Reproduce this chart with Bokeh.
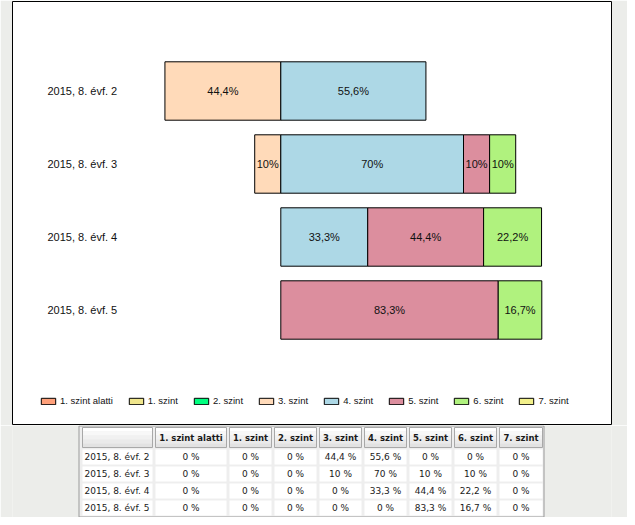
from bokeh.plotting import figure
from bokeh.models import ColumnDataSource, Range1d, Legend, LegendItem, CDSView, BooleanFilter
from bokeh.layouts import column
from bokeh.embed import file_html
from bokeh.resources import INLINE
from bokeh.core.properties import value

# ---------------- data ----------------
categories = ["2015, 8. évf. 2", "2015, 8. évf. 3", "2015, 8. évf. 4", "2015, 8. évf. 5"]
levels = ["1. szint alatti", "1. szint", "2. szint", "3. szint",
          "4. szint", "5. szint", "6. szint", "7. szint"]
szint_alatti = [0, 0, 0, 0]
szint_1 = [0, 0, 0, 0]
szint_2 = [0, 0, 0, 0]
szint_3 = [44.4, 10, 0, 0]
szint_4 = [55.6, 70, 33.3, 0]
szint_5 = [0, 10, 44.4, 83.3]
szint_6 = [0, 10, 22.2, 16.7]
szint_7 = [0, 0, 0, 0]
series = [szint_alatti, szint_1, szint_2, szint_3, szint_4, szint_5, szint_6, szint_7]
colors = ["#FFA07A", "#F0E68C", "#00FF7F", "#FFDAB9",
          "#ADD8E6", "#DC8E9E", "#B0F27E", "#F2F08A"]

PAGE_BG = "#ECEDEA"
FONT = "Liberation Sans"
TFONT = "DejaVu Sans"
W = 627
FL, FR = 12, 16   # frame borders (left/right), shared by both figures


def fmt(v, sep=""):
    return ("%g" % v).replace(".", ",") + sep + "%"


# ---------------- chart ----------------
rows = list(range(len(categories)))
p = figure(width=W, height=425, output_backend="svg", toolbar_location=None,
           x_range=Range1d(-102.8, 126.7), y_range=Range1d(4.5685, -1.226),
           x_axis_location=None, y_axis_location=None,
           min_border_left=FL, min_border_right=FR, min_border_top=1, min_border_bottom=1)
p.xgrid.visible = False
p.ygrid.visible = False
p.background_fill_color = "white"
p.border_fill_color = PAGE_BG
p.outline_line_color = "black"
p.outline_line_width = 1

# diverging stacks: levels below "4. szint" go left from the centre, others right
neg_order = [3, 2, 1, 0]
pos_order = [4, 5, 6, 7]
lefts = {}
rights = {}
for order, sign in ((neg_order, -1), (pos_order, 1)):
    cum = [0.0] * len(rows)
    for k in order:
        a = cum[:]
        b = [cum[i] + sign * series[k][i] for i in rows]
        lefts[k] = [min(a[i], b[i]) for i in rows]
        rights[k] = [max(a[i], b[i]) for i in rows]
        cum = b

legend_renderers = {}
lab_x, lab_y, lab_t = [], [], []
for k in range(len(levels)):
    src = ColumnDataSource(dict(y=rows, left=lefts[k], right=rights[k]))
    mask = [series[k][i] != 0 for i in rows]
    p.hbar(y="y", left="left", right="right", height=0.8, source=src,
           view=CDSView(filter=BooleanFilter(mask)),
           fill_color=colors[k], line_color="black", line_width=1)
    # hidden twin renderer, only used to draw the legend swatch
    legend_renderers[k] = p.hbar(y="y", left="left", right="right", height=0.8, source=src,
                                 fill_color=colors[k], line_color="black", line_width=1,
                                 visible=False)
    for i in rows:
        if series[k][i] != 0:
            lab_x.append((lefts[k][i] + rights[k][i]) / 2)
            lab_y.append(rows[i])
            lab_t.append(fmt(series[k][i]))

p.text(x=lab_x, y=lab_y, text=lab_t, text_align="center", text_baseline="middle",
       text_font=value(FONT), text_font_size="11px", text_color="#111111")

label_x = -89.4
p.text(x=[label_x] * len(rows), y=rows, text=categories, text_align="left",
       text_baseline="middle", text_font=value(FONT), text_font_size="11px",
       text_color="#111111")

legend = Legend(items=[LegendItem(label=levels[k], renderers=[legend_renderers[k]])
                       for k in range(len(levels))],
                orientation="horizontal", location=(27, 18),
                glyph_width=18, glyph_height=8, label_standoff=3, spacing=14,
                padding=0, margin=0, border_line_alpha=0, background_fill_alpha=0,
                label_text_font=FONT, label_text_font_size="9.5px", label_height=8,
                label_text_color="#111111", click_policy="none")
p.add_layout(legend)

# ---------------- table ----------------
col_widths = [70, 71, 42, 42, 42, 42, 42, 42, 43]
gap = 3
x0 = 82
col_left = []
x = x0
for w in col_widths:
    col_left.append(x)
    x += w + gap
col_right = [l + w for l, w in zip(col_left, col_widths)]
col_mid = [(l + r) / 2 for l, r in zip(col_left, col_right)]
header_top, header_bot = 2, 22
row_top = [24 + 17 * r for r in rows]
row_h = 15

t = figure(width=W, height=92, output_backend="svg", toolbar_location=None,
           x_range=Range1d(FL, W - FR), y_range=Range1d(92, 0),
           x_axis_location=None, y_axis_location=None,
           min_border_left=FL, min_border_right=FR, min_border_top=0, min_border_bottom=0)
t.xgrid.visible = False
t.ygrid.visible = False
t.background_fill_color = PAGE_BG
t.border_fill_color = PAGE_BG
t.outline_line_color = None

# outer table box
t.quad(left=[col_left[0] - 3.5], right=[col_right[-1] + 1.5], top=[0.5], bottom=[91.5],
       fill_color="#EEEEEE", line_color="#9A9A9A", line_width=1)

# header cells with a vertical gradient
bands = ["#FFFFFF", "#F8F8F8", "#F1F1F1", "#EAEAEA", "#E2E2E2"]
bh = (header_bot - header_top) / len(bands)
for j, c in enumerate(bands):
    t.quad(left=col_left, right=col_right,
           top=[header_top + j * bh] * len(col_left),
           bottom=[header_top + (j + 1) * bh] * len(col_left),
           fill_color=c, line_color=None)
t.quad(left=col_left, right=col_right, top=[header_top] * len(col_left),
       bottom=[header_bot] * len(col_left), fill_color=None,
       line_color="#A8A8A8", line_width=1)

# body cells
bl, br, bt, bb = [], [], [], []
for r in rows:
    for c in range(len(col_left)):
        bl.append(col_left[c]); br.append(col_right[c])
        bt.append(row_top[r]); bb.append(row_top[r] + row_h)
t.quad(left=bl, right=br, top=bt, bottom=bb, fill_color="white", line_color=None)

# header text
headers = [""] + levels
t.text(x=col_mid, y=[(header_top + header_bot) / 2] * len(col_mid), text=headers,
       text_align="center", text_baseline="middle", text_font=value(TFONT),
       text_font_size="8.5px", text_font_style="bold", text_color="#1a1a1a")

# row labels
t.text(x=[col_left[0] + 2] * len(rows), y=[rt + row_h / 2 for rt in row_top],
       text=categories, text_align="left", text_baseline="middle",
       text_font=value(TFONT), text_font_size="9px", text_color="#1a1a1a")

# values
vx, vy, vt = [], [], []
for r in rows:
    for k in range(len(levels)):
        vx.append(col_mid[k + 1])
        vy.append(row_top[r] + row_h / 2)
        vt.append(fmt(series[k][r], " "))
t.text(x=vx, y=vy, text=vt, text_align="center", text_baseline="middle",
       text_font=value(TFONT), text_font_size="9px", text_color="#1a1a1a")

layout = column(p, t, spacing=0)
open("out.html", "w").write(file_html(layout, INLINE))
